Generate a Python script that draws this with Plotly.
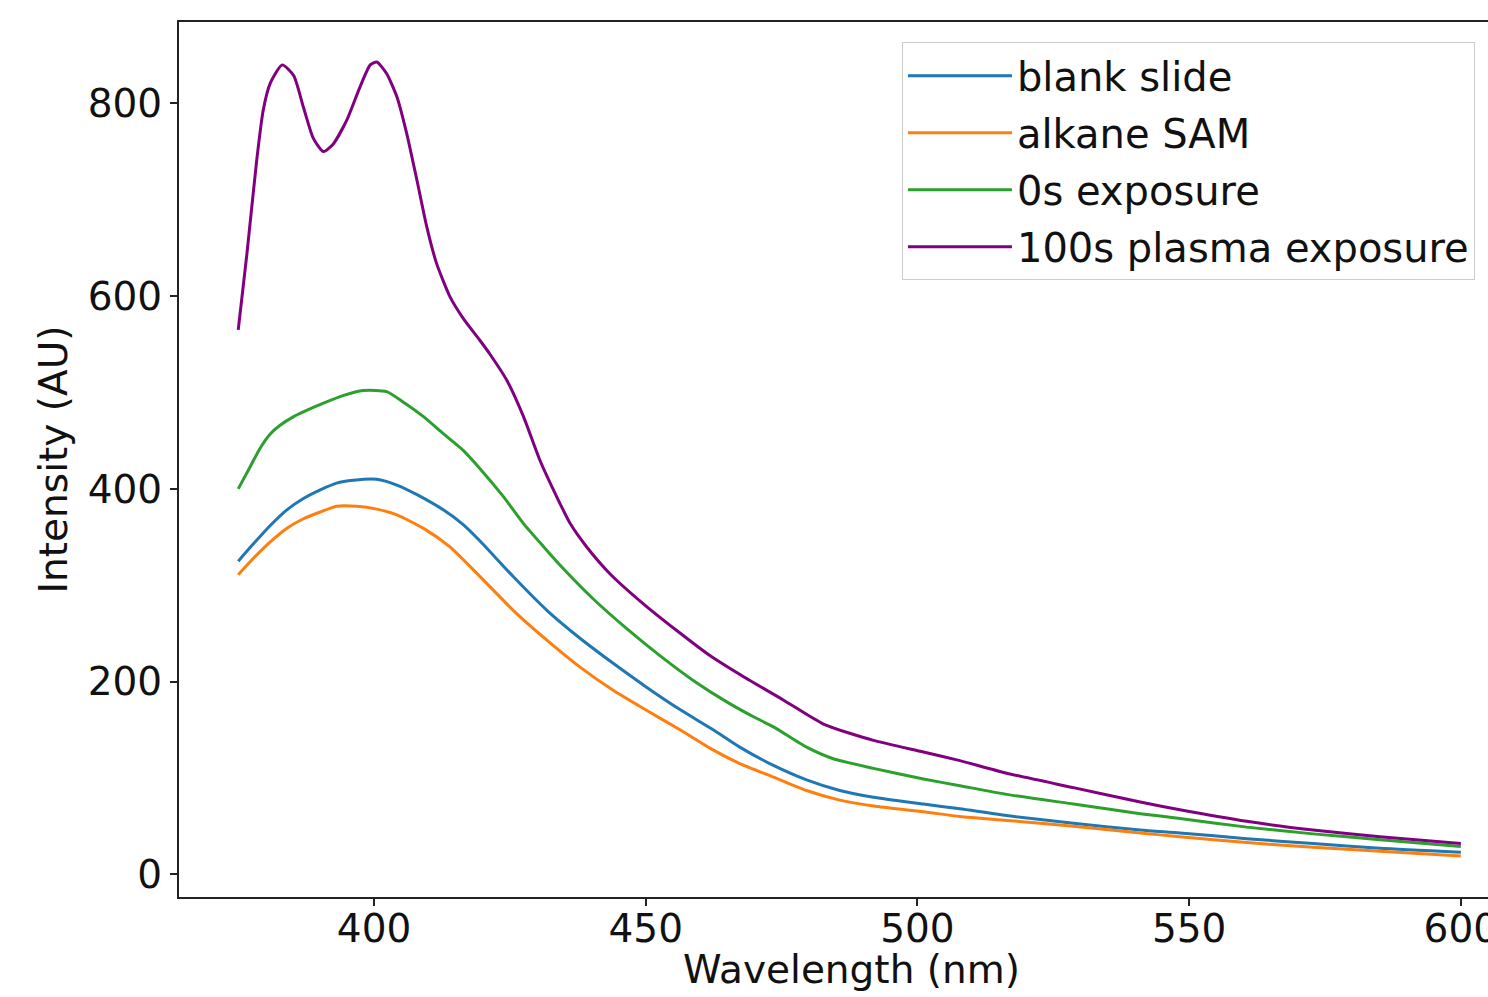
import plotly.graph_objects as go

# ---- data ----
blank_wl = [375, 377.8, 380.9, 383.9, 387.0, 390.1, 393.1, 396.2, 400.5, 404.2, 407.9, 412.8,
            416.4, 419.5, 425.6, 431.8, 437.9, 444.0, 450.2, 456.3, 462.4, 467.3, 473.5, 479.6,
            485.7, 491.9, 501.1, 507.8, 516.4, 528.7, 541.0, 548.3, 560.6, 572.8, 585.1, 600]
blank_int = [325, 343, 362, 378, 390, 399, 406, 409, 410, 404, 394, 378,
             363, 346, 309, 274, 245, 219, 194, 171, 150, 132, 113, 98,
             87, 80, 73, 68, 61, 53, 46, 43, 37, 32, 27, 23]

alkane_wl = [375, 377.8, 380.9, 383.9, 387.0, 390.1, 393.1, 396.8, 400.5, 404.2, 409.1, 413.9,
             419.5, 425.6, 431.8, 437.9, 444.0, 450.2, 456.3, 461.8, 467.3, 473.5, 479.6, 485.7,
             491.9, 501.1, 507.8, 516.4, 528.7, 541.0, 548.3, 560.6, 572.8, 585.1, 600]
alkane_int = [311, 328, 345, 359, 369, 376, 382, 382, 379, 373, 359, 340,
              309, 274, 243, 215, 191, 170, 150, 131, 115, 101, 87, 77,
              71, 65, 60, 56, 50, 43, 39, 33, 28, 24, 19]

zero_wl = [375, 377.2, 379.0, 380.9, 382.7, 385.2, 388.2, 390.7, 394.4, 398.0, 402.3, 405.4,
           409.1, 412.8, 416.4, 419.5, 423.8, 427.5, 431.2, 434.2, 440.3, 446.5, 452.6, 458.8,
           464.9, 470.0, 473.5, 479.6, 484.5, 491.9, 501.1, 507.8, 516.4, 528.7, 541.0, 548.3,
           560.6, 572.8, 585.1, 600]
zero_int = [400, 423, 442, 457, 466, 475, 483, 489, 497, 502, 501, 490,
            475, 457, 440, 421, 392, 364, 340, 321, 286, 255, 227, 201,
            179, 163, 153, 132, 120, 110, 99, 92, 83, 73, 63, 58,
            49, 42, 36, 29]

plasma_wl = [375, 376.6, 378.4, 379.6, 380.9, 383.1, 385.2, 387.0, 388.8, 390.7, 392.5, 395.0,
             397.4, 399.3, 400.5, 402.3, 404.2, 406.0, 407.9, 409.7, 411.5, 414.0, 416.4, 419.5,
             421.3, 424.4, 427.5, 430.5, 433.6, 436.1, 439.1, 443.4, 449.5, 455.7, 461.8, 468.0,
             475.3, 482.7, 491.9, 501.1, 507.8, 516.4, 528.7, 541.0, 548.3, 560.6, 572.8, 585.1, 600]
plasma_int = [565, 644, 741, 793, 821, 840, 829, 796, 764, 750, 758, 783,
              817, 840, 843, 831, 807, 769, 720, 672, 634, 599, 577, 554,
              540, 513, 475, 430, 392, 364, 340, 312, 281, 253, 227, 205,
              181, 156, 139, 127, 118, 105, 90, 75, 67, 55, 46, 39, 32]

series_names = ["blank slide", "alkane SAM", "0s exposure", "100s plasma exposure"]
series_colors = ["#1f77b4", "#ff7f0e", "#2ca02c", "#800080"]

x_ticks = [400, 450, 500, 550, 600]
y_ticks = [0, 200, 400, 600, 800]
x_title = "Wavelength (nm)"
y_title = "Intensity (AU)"

FONT = "DejaVu Sans"

fig = go.Figure()
for name, color, xs, ys in zip(series_names, series_colors,
                               [blank_wl, alkane_wl, zero_wl, plasma_wl],
                               [blank_int, alkane_int, zero_int, plasma_int]):
    fig.add_trace(go.Scatter(x=xs, y=ys, mode="lines", name=name, legendgroup=name,
                             line=dict(color=color, width=3, shape="spline", smoothing=0.6)))

fig.update_layout(
    width=1488, height=997,
    margin=dict(l=179, r=0, t=22, b=100),
    paper_bgcolor="white", plot_bgcolor="white",
    font=dict(family=FONT, size=39, color="#111111"),
    showlegend=True,
    legend=dict(x=0.5523, y=0.977, xanchor="left", yanchor="top",
                bgcolor="rgba(255,255,255,0.85)", bordercolor="#cccccc", borderwidth=1,
                font=dict(family=FONT, size=40, color="#111111"),
                itemwidth=104, tracegroupgap=2, traceorder="grouped"),
    annotations=[dict(text=x_title, xref="paper", yref="paper", x=0.514, y=-0.083,
                      xanchor="center", yanchor="middle", showarrow=False,
                      font=dict(family=FONT, size=39, color="#111111"))],
)
fig.update_xaxes(range=[364.1, 605.0], tickvals=x_ticks, ticks="outside", ticklen=7,
                 tickwidth=1.5, tickcolor="#222222", showline=True, linecolor="#222222",
                 linewidth=2, mirror=True, showgrid=False, zeroline=False,
                 automargin=False,
                 ticklabeloverflow="allow", ticklabelstandoff=-11,
                 tickfont=dict(size=39))
fig.update_yaxes(range=[-23.5, 884.5], tickvals=y_ticks, ticks="outside", ticklen=7,
                 tickwidth=1.5, tickcolor="#222222", showline=True, linecolor="#222222",
                 linewidth=2, mirror=False, showgrid=False, zeroline=False,
                 automargin=False,
                 title=dict(text=y_title, standoff=8, font=dict(size=39)),
                 tickfont=dict(size=39))

# remove the browser's default 8px body margin so the figure fills the window exactly
fig.write_html("out.html", config={"displayModeBar": False},
               post_script="document.body.style.margin='0';document.body.style.overflow='hidden';")
